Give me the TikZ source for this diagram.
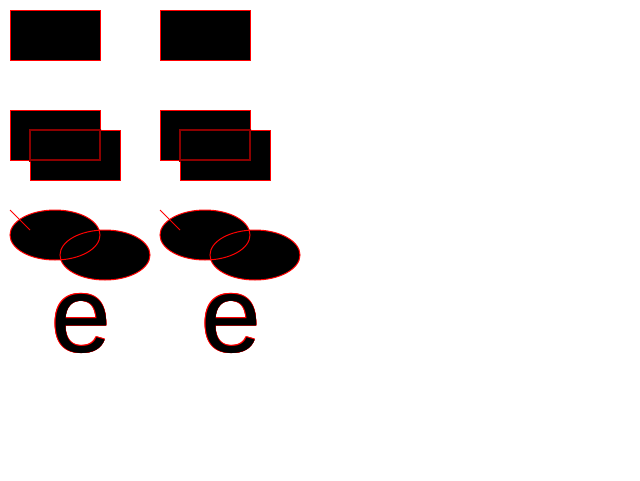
\documentclass[tikz,border=0pt]{standalone}
\usepackage{fontspec}
\newfontfamily\glyphfont{Liberation Sans}
\usetikzlibrary{positioning}

\tikzset{
  solid fill/.style={fill=black},
  red edge/.style={draw=red,line width=1pt},
  dark edge/.style={draw=red!55!black,line width=1.6pt},
  big glyph/.style={anchor=base west,inner sep=0pt,
                    font=\glyphfont\fontsize{108}{108}\selectfont}
}

\begin{document}
\begin{tikzpicture}[x=1pt,y=-1pt]
  \useasboundingbox (0,0) rectangle (640,480);

  \foreach \dx in {0,150}{
    \begin{scope}[xshift=\dx pt]
      % single box
      \filldraw[solid fill,red edge] (10,10) rectangle (100,60);

      % two boxes, fills first, then edges
      \fill[solid fill] (10,110) rectangle (100,160);
      \fill[solid fill] (30,130) rectangle (120,180);
      \draw[red edge] (10,110) rectangle (100,160);
      \draw[red edge] (30,130) rectangle (120,180);
      \begin{scope}
        \clip (29,129) rectangle (101,161);
        \draw[dark edge] (10,110) rectangle (100,160);
        \draw[dark edge] (30,130) rectangle (120,180);
      \end{scope}

      % two ellipses
      \fill[solid fill] (55,235) ellipse [x radius=45,y radius=25];
      \fill[solid fill] (105,255) ellipse [x radius=45,y radius=25];
      \draw[red edge] (55,235) ellipse [x radius=45,y radius=25];
      \draw[red edge] (105,255) ellipse [x radius=45,y radius=25];
      \draw[red edge] (10,210) -- (30,230);

      % outlined letter
      \foreach \ox/\oy in {0.6/0,-0.6/0,0/0.6,0/-0.6,0.45/0.45,-0.45/0.45,0.45/-0.45,-0.45/-0.45}
        \node[big glyph,text=red] (rim-\dx) at (51+\ox,352+\oy) {e};
      \node[big glyph,text=black] (glyph-\dx) at (51,352) {e};
    \end{scope}
  }
\end{tikzpicture}
\end{document}
